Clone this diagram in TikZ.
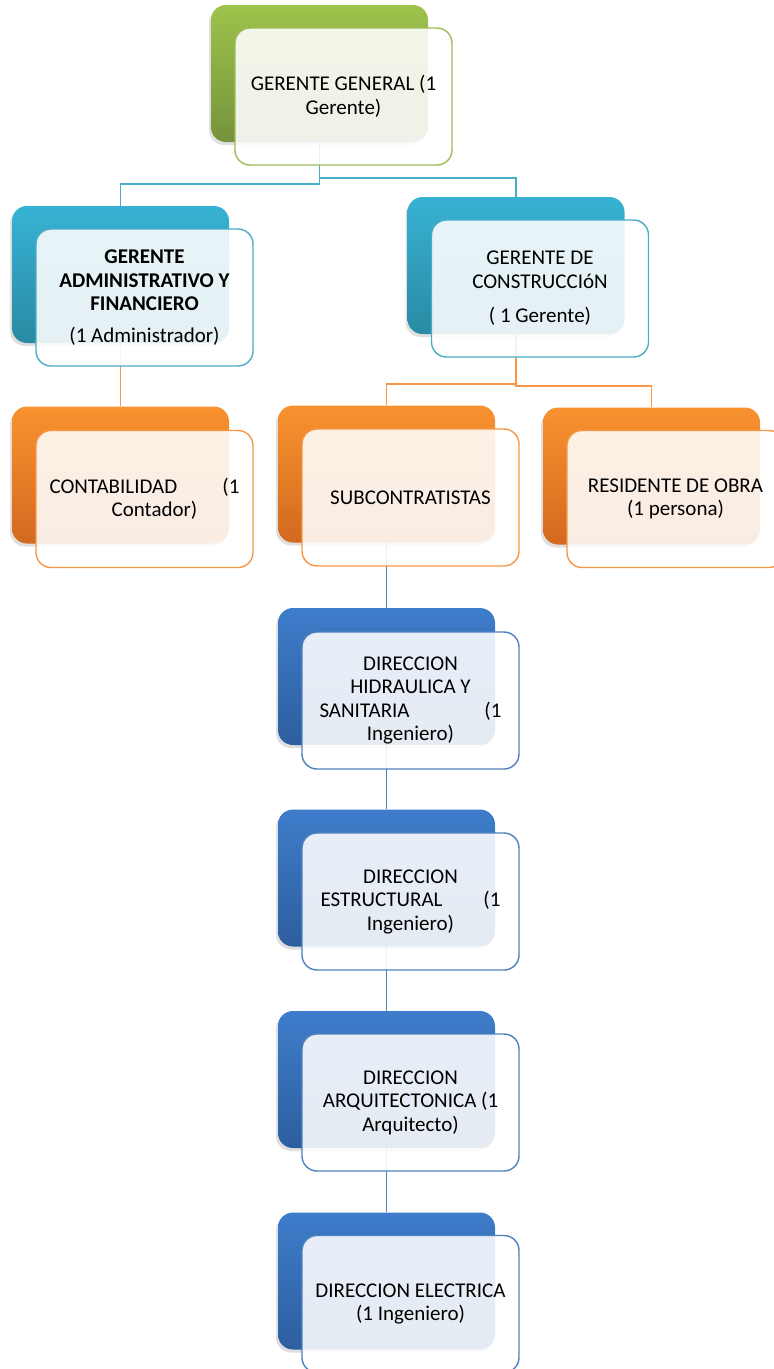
\documentclass[tikz,border=0pt]{standalone}
\usepackage{fontspec}
\setmainfont{Carlito}
\usetikzlibrary{shadows, backgrounds}

\definecolor{greentop}{HTML}{9DC34B}
\definecolor{greenbot}{HTML}{76923C}
\definecolor{greenline}{HTML}{9BBB59}
\definecolor{aquatop}{HTML}{37B2D4}
\definecolor{aquabot}{HTML}{2A8AA3}
\definecolor{aqualine}{HTML}{4BACC6}
\definecolor{orangetop}{HTML}{F9922F}
\definecolor{orangebot}{HTML}{D2691F}
\definecolor{orangeline}{HTML}{F79646}
\definecolor{bluetop}{HTML}{3E7DCB}
\definecolor{bluebot}{HTML}{2D5E9F}
\definecolor{blueline}{HTML}{4F81BD}

\begin{document}
\begin{tikzpicture}[x=1pt, y=-1pt,
  back/.style={rounded corners=15pt, minimum width=217pt, minimum height=137pt, inner sep=0pt,
    drop shadow={shadow xshift=-2pt, shadow yshift=-3pt, opacity=.25}},
  front/.style={draw, rounded corners=15pt, minimum width=217pt, minimum height=137pt, inner sep=0pt,
    line width=1.4pt, fill=white, fill opacity=.88, text opacity=1, align=flush center, text width=190pt,
    font=\fontsize{21}{23.5}\selectfont},
  link/.style={line width=1.6pt}
]
\useasboundingbox (0,0) rectangle (774,1369);

% level 1
\node[back, top color=greentop, bottom color=greenbot] (gg-b) at (319.5,73.5) {};
\node[front, draw=greenline] (gg) at (343.5,96.5) {GERENTE GENERAL (1\\Gerente)};

% level 2
\node[back, top color=aquatop, bottom color=aquabot] (adm-b) at (120.5,274.5) {};
\node[front, draw=aqualine] (adm) at (144.5,297.5) {\textbf{GERENTE}\\\textbf{ADMINISTRATIVO Y}\\\textbf{FINANCIERO}\\[8pt](1 Administrador)};
\node[back, top color=aquatop, bottom color=aquabot] (con-b) at (516,265.5) {};
\node[front, draw=aqualine] (con) at (540,288.5) {GERENTE DE\\CONSTRUCCIóN\\[11pt]( 1 Gerente)};

% level 3
\node[back, top color=orangetop, bottom color=orangebot] (cont-b) at (120.5,475) {};
\node[front, draw=orangeline] (cont) at (144.5,499) {\makebox[\hsize][s]{CONTABILIDAD\hfill(1}\\\hspace*{20pt}Contador)};
\node[back, top color=orangetop, bottom color=orangebot] (sub-b) at (386.5,474) {};
\node[front, draw=orangeline] (sub) at (410.5,497.5) {SUBCONTRATISTAS};
\node[back, top color=orangetop, bottom color=orangebot] (res-b) at (651.5,476) {};
\node[front, draw=orangeline] (res) at (675.5,499) {RESIDENTE DE OBRA\\(1 persona)};

% direcciones
\node[back, top color=bluetop, bottom color=bluebot] (hid-b) at (386.5,676.5) {};
\node[front, draw=blueline, text width=182pt] (hid) at (410.5,700.5) {DIRECCION\\HIDRAULICA Y\\\makebox[\hsize][s]{SANITARIA\hfill(1}\\Ingeniero)};
\node[back, top color=bluetop, bottom color=bluebot] (est-b) at (386.5,878) {};
\node[front, draw=blueline, text width=180pt] (est) at (410.5,901.5) {DIRECCION\\\makebox[\hsize][s]{ESTRUCTURAL\hfill(1}\\Ingeniero)};
\node[back, top color=bluetop, bottom color=bluebot] (arq-b) at (386.5,1079.5) {};
\node[front, draw=blueline] (arq) at (410.5,1102.5) {DIRECCION\\ARQUITECTONICA (1\\Arquitecto)};
\node[back, top color=bluetop, bottom color=bluebot] (ele-b) at (386.5,1281) {};
\node[front, draw=blueline, text width=205pt] (ele) at (410.5,1304) {DIRECCION ELECTRICA\\(1 Ingeniero)};

\begin{scope}[on background layer]
\draw[link, aqualine] (gg-b.south) -- ++(0,42) -| (adm-b.north);
\draw[link, aqualine] (gg-b.south) -- ++(0,36) -| (con-b.north);
\draw[link, orangeline] (adm-b.south) -- (cont-b.north);
\draw[link, orangeline] (con-b.south) -- ++(0,50) -| (sub-b.north);
\draw[link, orangeline] (con-b.south) -- ++(0,52) -| (res-b.north);
\draw[link, blueline] (sub-b.south) -- (hid-b.north);
\draw[link, blueline] (hid-b.south) -- (est-b.north);
\draw[link, blueline] (est-b.south) -- (arq-b.north);
\draw[link, blueline] (arq-b.south) -- (ele-b.north);
\end{scope}
\end{tikzpicture}
\end{document}
